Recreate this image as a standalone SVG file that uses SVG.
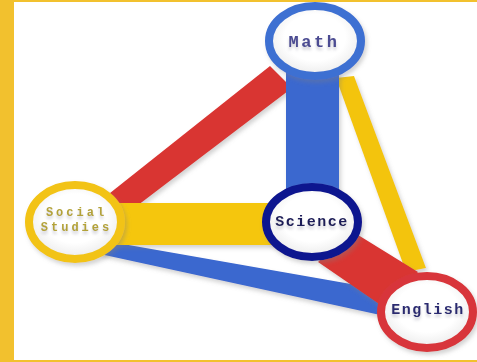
<svg xmlns="http://www.w3.org/2000/svg" width="477" height="362" viewBox="0 0 477 362">
  <defs>
    <filter id="sh" x="-20%" y="-20%" width="140%" height="140%">
      <feDropShadow dx="2" dy="3" stdDeviation="2" flood-color="#808080" flood-opacity="0.35"/>
    </filter>
    <filter id="tsh" x="-20%" y="-40%" width="140%" height="200%">
      <feDropShadow dx="0" dy="3" stdDeviation="1.5" flood-color="#9090a0" flood-opacity="0.45"/>
    </filter>
    <radialGradient id="fill" cx="50%" cy="45%" r="55%">
      <stop offset="0.6" stop-color="#ffffff"/>
      <stop offset="1" stop-color="#ebebeb"/>
    </radialGradient>
  </defs>
  <style>
    .ring { fill: url(#fill); stroke-width: 8; filter: url(#sh); }
    .lbl { font-family: "Liberation Mono", "Courier New", monospace; font-weight: bold; text-anchor: middle; filter: url(#tsh); }
    .band { filter: url(#sh); }
  </style>
  <rect x="0" y="0" width="477" height="362" fill="#ffffff"/>
  <rect x="0" y="0" width="14" height="362" fill="#f2c12e"/>
  <rect x="0" y="0" width="477" height="2" fill="#f2c12e"/>
  <rect x="0" y="360" width="477" height="2" fill="#f2c12e"/>

  <g id="connectors">
    <polygon class="band" points="105,197 270,66 292,88 125,215" fill="#d93431"/>
    <polygon class="band" points="336,78 354,76 426,268 406,272" fill="#f3c40f"/>
    <polygon class="band" points="286,72 339,72 339,200 286,200" fill="#3a67cf"/>
    <polygon class="band" points="100,240 385,290 385,316 100,254" fill="#3a67cf"/>
    <polygon class="band" points="100,203 300,203 300,245 100,245" fill="#f5c60c"/>
    <polygon class="band" points="350,230 418,272 385,308 318,262" fill="#d93431"/>
  </g>

  <g id="math">
    <ellipse class="ring" cx="315" cy="41" rx="46" ry="35" stroke="#3d6fd2"/>
    <text class="lbl" x="314" y="47" font-size="17" letter-spacing="2.5" fill="#4b4b92">Math</text>
  </g>
  <g id="social-studies">
    <ellipse class="ring" cx="75" cy="222" rx="46" ry="37" stroke="#f2c318"/>
    <text class="lbl" x="76.5" y="216" font-size="12" letter-spacing="3" fill="#b3a238">Social</text>
    <text class="lbl" x="76.5" y="230.5" font-size="12" letter-spacing="3" fill="#b3a238">Studies</text>
  </g>
  <g id="science">
    <ellipse class="ring" cx="312" cy="222" rx="46" ry="35" stroke="#11168f" stroke-width="9"/>
    <text class="lbl" x="312" y="226" font-size="15" letter-spacing="1.5" fill="#1c1c58">Science</text>
  </g>
  <g id="english">
    <ellipse class="ring" cx="427" cy="312" rx="46" ry="36" stroke="#d8363a"/>
    <text class="lbl" x="428" y="314" font-size="15" letter-spacing="1.5" fill="#2a2a70">English</text>
  </g>
</svg>
